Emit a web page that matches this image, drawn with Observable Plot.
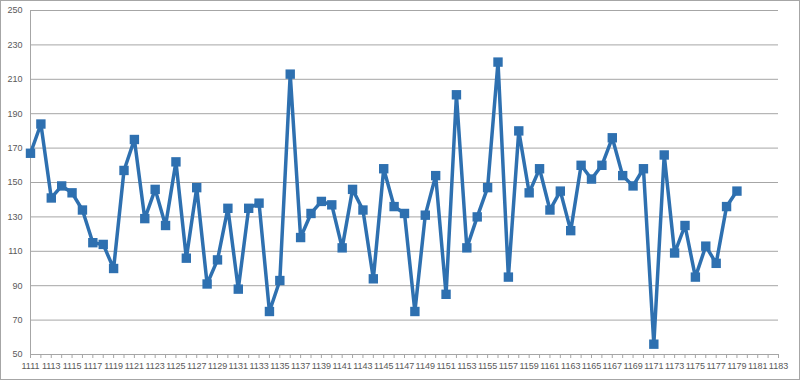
<!DOCTYPE html>
<html>
<head>
<meta charset="utf-8">
<script src="https://cdn.jsdelivr.net/npm/d3@7"></script>
<script src="https://cdn.jsdelivr.net/npm/@observablehq/plot@0.6"></script>
<style>
  html, body { margin: 0; padding: 0; background: #fff; }
  #chart { width: 800px; height: 380px; position: relative; }
</style>
</head>
<body>
<div id="chart"></div>
<script>
const categories = [
  "1111","1112","1113","1114","1115","1116","1117","1118","1119","1120",
  "1121","1122","1123","1124","1125","1126","1127","1128","1129","1130",
  "1131","1132","1133","1134","1135","1136","1137","1138","1139","1140",
  "1141","1142","1143","1144","1145","1146","1147","1148","1149","1150",
  "1151","1152","1153","1154","1155","1156","1157","1158","1159","1160",
  "1161","1162","1163","1164","1165","1166","1167","1168","1169","1170",
  "1171","1172","1173","1174","1175","1176","1177","1178","1179","1180",
  "1181","1182","1183"
];
const values = [
  167, 184, 141, 148, 144, 134, 115, 114, 100, 157,
  175, 129, 146, 125, 162, 106, 147, 91, 105, 135,
  88, 135, 138, 75, 93, 213, 118, 132, 139, 137,
  112, 146, 134, 94, 158, 136, 132, 75, 131, 154,
  85, 201, 112, 130, 147, 220, 95, 180, 144, 158,
  134, 145, 122, 160, 152, 160, 176, 154, 148, 158,
  56, 166, 109, 125, 95, 113, 103, 136, 145
];
const xTickLabels = categories.filter((c, i) => i % 2 === 0);
const yTicks = [50, 70, 90, 110, 130, 150, 170, 190, 210, 230, 250];

const data = values.map((v, i) => ({cat: categories[i], value: v}));

const blue = "#2e70b0";
const grid = "#a6a6a6";

const plot = Plot.plot({
  width: 800,
  height: 380,
  marginLeft: 30,
  marginRight: 22,
  marginTop: 10,
  marginBottom: 26,
  style: {fontFamily: "'Liberation Sans', Arial, sans-serif", fontSize: "9px", color: "#595959", background: "#fff"},
  x: {type: "point", domain: categories, padding: 0, round: false},
  y: {domain: [50, 250]},
  marks: [
    Plot.ruleY(yTicks, {stroke: grid, strokeWidth: 1}),
    Plot.ruleX([categories[0]], {stroke: grid, strokeWidth: 1}),
    Plot.axisY({ticks: yTicks, tickSize: 0, tickPadding: 8, label: null, fill: "#595959"}),
    Plot.axisX({ticks: categories, tickSize: 4, stroke: grid, tickFormat: () => "", label: null}),
    Plot.axisX({ticks: xTickLabels, tickSize: 0, tickPadding: 8, label: null, fill: "#595959"}),
    Plot.line(data, {x: "cat", y: "value", stroke: blue, strokeWidth: 3.5, strokeLinejoin: "miter"}),
    Plot.dot(data, {x: "cat", y: "value", symbol: "square", r: 5.3, fill: blue, stroke: "none"})
  ]
});

document.getElementById("chart").appendChild(plot);
d3.select(plot).append("rect")
  .attr("x", 0.5).attr("y", 0.5).attr("width", 799).attr("height", 379)
  .attr("fill", "none").attr("stroke", "#a6a6a6");
</script>
</body>
</html>
